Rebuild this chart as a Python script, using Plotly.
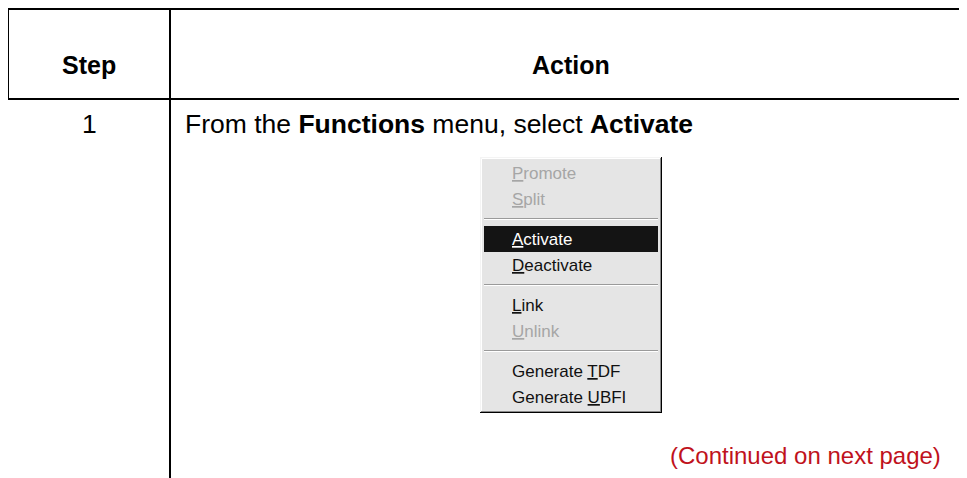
import plotly.graph_objects as go

# ---------------- data ----------------
header_labels = ["Step", "Action"]
step_numbers = ["1"]
action_parts = ["From the ", "Functions", " menu, select ", "Activate"]
action_bold = [False, True, False, True]
menu_items = ["Promote", "Split", None, "Activate", "Deactivate", None,
              "Link", "Unlink", None, "Generate TDF", "Generate UBFI"]
menu_mnemonic = [0, 0, None, 0, 0, None, 0, 0, None, 9, 9]
menu_enabled = [False, False, None, True, True, None, True, False, None, True, True]
menu_selected = "Activate"
continued_text = "(Continued on next page)"

# ---------------- layout constants ----------------
W, H = 967, 478
PAGE_OFFSET = 8  # default body margin of the html page
FONT = "Liberation Sans, Arial, sans-serif"
LINE_W = 2
TABLE_LEFT, TABLE_TOP, HEADER_BOTTOM, COL_DIV = 8, 9, 99, 170
MENU_L, MENU_R, MENU_T = 480, 662, 157
ITEM_H, SEP_H, MENU_PAD = 26, 14, 3

fig = go.Figure()
shapes = []
annotations = []


def line(x0, y0, x1, y1, color="#000", width=LINE_W):
    shapes.append(dict(type="line", xref="x", yref="y", x0=x0, y0=y0, x1=x1, y1=y1,
                       line=dict(color=color, width=width)))


def rect(x0, y0, x1, y1, fill, lw=0, lc=None):
    shapes.append(dict(type="rect", xref="x", yref="y", x0=x0, y0=y0, x1=x1, y1=y1,
                       fillcolor=fill, line=dict(width=lw, color=lc or fill), layer="above"))


def text(x, y, s, size=24, color="#000", xanchor="center"):
    annotations.append(dict(x=x, y=y, xref="x", yref="y", text=s, showarrow=False,
                            xanchor=xanchor, yanchor="middle",
                            font=dict(family=FONT, size=size, color=color)))


# table lines
line(TABLE_LEFT, TABLE_TOP, W + 10, TABLE_TOP)
line(TABLE_LEFT, HEADER_BOTTOM, W + 10, HEADER_BOTTOM)
line(TABLE_LEFT, TABLE_TOP - 1, TABLE_LEFT, HEADER_BOTTOM + 1)
line(COL_DIV, 6, COL_DIV, H + 10)

# headers
text((TABLE_LEFT + COL_DIV) / 2, 65, "<b>%s</b>" % header_labels[0], size=25)
text((COL_DIV + W) / 2 + 2, 65, "<b>%s</b>" % header_labels[1], size=25)

# step row
row_y = 124
text((TABLE_LEFT + COL_DIV) / 2, row_y, step_numbers[0], size=26.5)
action_html = "".join("<b>%s</b>" % p if b else p for p, b in zip(action_parts, action_bold))
text(183, row_y, action_html, size=26.5, xanchor="left")

# menu geometry
heights = [SEP_H if m is None else ITEM_H for m in menu_items]
MENU_B = MENU_T + 2 * MENU_PAD + sum(heights)

rect(MENU_L, MENU_T, MENU_R, MENU_B, "#e5e5e5")
# 3D edges
line(MENU_L, MENU_T + 0.5, MENU_R, MENU_T + 0.5, "#f4f4f4", 1)
line(MENU_L + 0.5, MENU_T, MENU_L + 0.5, MENU_B, "#f4f4f4", 1)
line(MENU_L + 1.5, MENU_T + 1.5, MENU_R - 1, MENU_T + 1.5, "#ffffff", 1)
line(MENU_L + 1.5, MENU_T + 1.5, MENU_L + 1.5, MENU_B - 1, "#ffffff", 1)
line(MENU_R - 0.5, MENU_T, MENU_R - 0.5, MENU_B, "#000000", 1)
line(MENU_L, MENU_B - 0.5, MENU_R, MENU_B - 0.5, "#000000", 1)
line(MENU_R - 1.5, MENU_T + 1, MENU_R - 1.5, MENU_B - 1, "#8a8a8a", 1)
line(MENU_L + 1, MENU_B - 1.5, MENU_R - 1, MENU_B - 1.5, "#8a8a8a", 1)

y = MENU_T + MENU_PAD
for item, mn, en, h in zip(menu_items, menu_mnemonic, menu_enabled, heights):
    if item is None:
        cy = y + h / 2
        line(MENU_L + 4, cy - 0.5, MENU_R - 4, cy - 0.5, "#9a9a9a", 1)
        line(MENU_L + 4, cy + 0.5, MENU_R - 4, cy + 0.5, "#ffffff", 1)
    else:
        color = "#111111" if en else "#a6a6a6"
        if item == menu_selected:
            rect(MENU_L + 4, y, MENU_R - 4, y + h, "#141414")
            color = "#ffffff"
        label = (item[:mn] + '<span style="text-decoration:underline">' + item[mn]
                 + "</span>" + item[mn + 1:])
        text(MENU_L + 30, y + h / 2, label, size=17, color=color, xanchor="left")
    y += h

# continuation note
text(943, 455, continued_text, size=24, color="#c0121c", xanchor="right")

fig.update_layout(
    width=W, height=H, margin=dict(l=0, r=0, t=0, b=0),
    paper_bgcolor="#ffffff", plot_bgcolor="#ffffff",
    xaxis=dict(range=[PAGE_OFFSET, W + PAGE_OFFSET], visible=False, fixedrange=True),
    yaxis=dict(range=[H + PAGE_OFFSET, PAGE_OFFSET], visible=False, fixedrange=True),
    shapes=shapes, annotations=annotations, showlegend=False,
)
fig.write_html("out.html")
